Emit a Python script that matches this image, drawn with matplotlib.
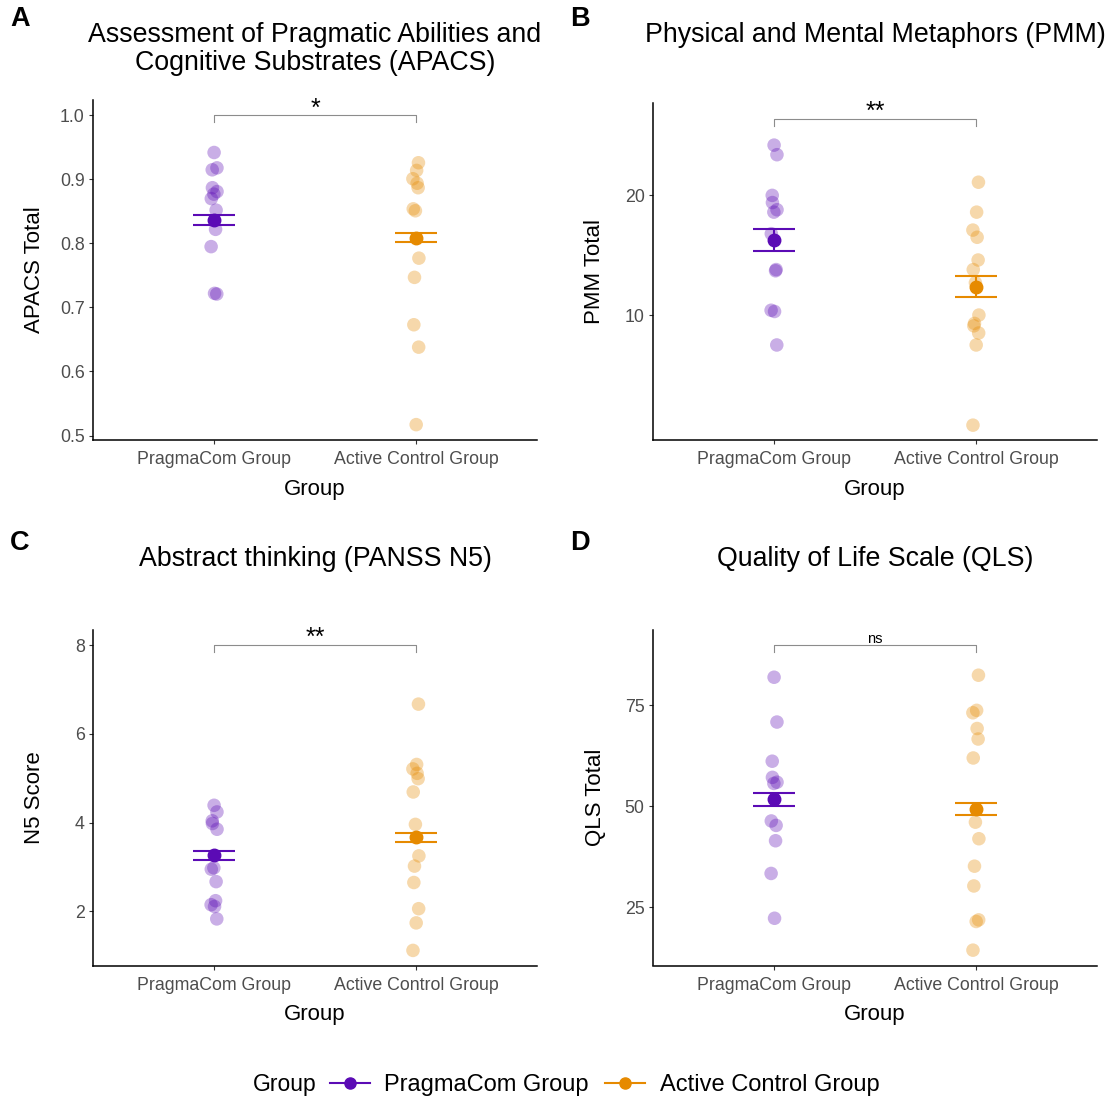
import numpy as np
import matplotlib.pyplot as plt
from matplotlib.lines import Line2D

plt.rcParams['font.family'] = ['Liberation Sans', 'DejaVu Sans']

W, H = 1112, 1099

groups = ['PragmaCom Group', 'Active Control Group']
colors = ['#5B0BB5', '#E68A00']

# A: APACS total
apacs_pragma = [0.942, 0.918, 0.915, 0.887, 0.881, 0.877, 0.870, 0.852, 0.822, 0.795, 0.722, 0.721]
apacs_control = [0.926, 0.914, 0.901, 0.894, 0.887, 0.854, 0.851, 0.777, 0.747, 0.673, 0.638, 0.517]
apacs_mean = [0.836, 0.809]
apacs_se = [0.008, 0.0075]

# B: PMM total
pmm_pragma = [24.2, 23.4, 20.0, 19.4, 18.8, 18.6, 16.8, 13.8, 13.7, 10.4, 10.3, 7.5]
pmm_control = [21.1, 18.6, 17.1, 16.5, 14.6, 13.8, 12.7, 10.0, 9.3, 9.1, 8.5, 7.5, 0.8]
pmm_mean = [16.3, 12.35]
pmm_se = [0.92, 0.88]

# C: PANSS N5
n5_pragma = [4.39, 4.24, 4.04, 3.98, 3.85, 2.98, 2.95, 2.67, 2.24, 2.15, 2.11, 1.83]
n5_control = [6.67, 5.31, 5.21, 5.11, 4.99, 4.69, 3.96, 3.25, 3.02, 2.65, 2.06, 1.74, 1.12]
n5_mean = [3.26, 3.67]
n5_se = [0.105, 0.105]

# D: QLS total
qls_pragma = [82.0, 70.9, 61.2, 57.2, 56.0, 55.7, 46.4, 45.3, 41.5, 33.4, 22.3]
qls_control = [82.5, 73.8, 73.2, 69.3, 66.7, 62.0, 46.1, 42.0, 35.2, 30.3, 21.9, 21.5, 14.4]
qls_mean = [51.8, 49.3]
qls_se = [1.6, 1.5]

panels = [
    dict(tag='A', title=['Assessment of Pragmatic Abilities and', 'Cognitive Substrates (APACS)'],
         ylabel='APACS Total', data=[apacs_pragma, apacs_control], mean=apacs_mean, se=apacs_se,
         yticks=[0.5, 0.6, 0.7, 0.8, 0.9, 1.0], ylim=(0.493, 1.024), sig='*', bracket=1.0),
    dict(tag='B', title=['Physical and Mental Metaphors (PMM)'],
         ylabel='PMM Total', data=[pmm_pragma, pmm_control], mean=pmm_mean, se=pmm_se,
         yticks=[10, 20], ylim=(-0.44, 27.72), sig='**', bracket=26.4),
    dict(tag='C', title=['Abstract thinking (PANSS N5)'],
         ylabel='N5 Score', data=[n5_pragma, n5_control], mean=n5_mean, se=n5_se,
         yticks=[2, 4, 6, 8], ylim=(0.78, 8.34), sig='**', bracket=8.0),
    dict(tag='D', title=['Quality of Life Scale (QLS)'],
         ylabel='QLS Total', data=[qls_pragma, qls_control], mean=qls_mean, se=qls_se,
         yticks=[25, 50, 75], ylim=(10.6, 93.7), sig='ns', bracket=89.9),
]

# pixel boxes of the plot areas: left, top, right, bottom
boxes = [(93, 100, 537, 440), (653, 103, 1097, 440),
         (93, 630, 537, 965.5), (653, 630, 1097, 965.5)]


def fx(px):
    return px / W


def fy(py):
    return 1 - py / H


fig = plt.figure(figsize=(W / 100, H / 100), dpi=100)

for p, (l, t, r, b) in zip(panels, boxes):
    ax = fig.add_axes([fx(l), fy(b), (r - l) / W, (b - t) / H])
    for i, vals in enumerate(p['data']):
        idx = np.arange(len(vals))
        jit = 0.015 * np.sin(1.9 * idx + i)
        ax.scatter(i + 1 + jit, vals, s=95, color=colors[i], alpha=0.33,
                   edgecolors='none', zorder=2)
        ax.errorbar(i + 1, p['mean'][i], yerr=p['se'][i], fmt='o', color=colors[i],
                    markersize=9, elinewidth=1.5, capsize=15, capthick=1.5, zorder=3)

    # significance bracket
    lo, hi = p['ylim']
    tick = 0.02 * (hi - lo)
    yb = p['bracket']
    ax.plot([1, 1, 2, 2], [yb - tick, yb, yb, yb - tick], color='#8c8c8c', lw=0.8,
            clip_on=False, zorder=1)
    if p['sig'] == 'ns':
        ax.annotate('ns', (1.5, yb), xytext=(0, 2), textcoords='offset points',
                    ha='center', va='baseline', fontsize=10.5)
    else:
        ax.annotate(p['sig'], (1.5, yb), xytext=(0, 0), textcoords='offset points',
                    ha='center', va='baseline', fontsize=18)

    ax.set_xlim(0.4, 2.6)
    ax.set_ylim(lo, hi)
    ax.set_xticks([1, 2])
    ax.set_xticklabels(groups)
    ax.set_yticks(p['yticks'])
    ax.set_yticklabels([f'{v:g}' if p['tag'] != 'A' else f'{v:.1f}' for v in p['yticks']])
    ax.tick_params(axis='both', length=3, width=0.8, color='#333333',
                   labelcolor='#4D4D4D', labelsize=12.8, pad=3)
    ax.tick_params(axis='x', pad=5)
    for s in ['top', 'right']:
        ax.spines[s].set_visible(False)
    for s in ['left', 'bottom']:
        ax.spines[s].set_linewidth(1.1)

    cx = (l + r) / 2
    ys = [35, 63] if len(p['title']) == 2 else [35]
    off = 0 if t < 500 else 524
    for line, yy in zip(p['title'], ys):
        fig.text(fx(cx), fy(yy + off), line, ha='center', va='center', fontsize=19.3)
    fig.text(fx(l - 73 + 15), fy((t + b) / 2), p['ylabel'], rotation=90,
             ha='center', va='center', fontsize=16)
    fig.text(fx(cx), fy(b + 49), 'Group', ha='center', va='center', fontsize=16)
    fig.text(fx(l - 73), fy(19 + off), p['tag'], ha='center', va='center',
             fontsize=19.5, fontweight='bold')

# legend
fig.text(fx(253), fy(1085), 'Group', ha='left', va='center', fontsize=16.5)
handles = [Line2D([0], [0], color=c, marker='o', markersize=8, lw=1.5) for c in colors]
fig.legend(handles, groups, loc='center left', bbox_to_anchor=(fx(330), fy(1085)),
           ncol=2, frameon=False, fontsize=17, handlelength=1.7, handletextpad=0.6,
           columnspacing=0.7, borderpad=0, borderaxespad=0)

fig.savefig('out.png', dpi=100)
